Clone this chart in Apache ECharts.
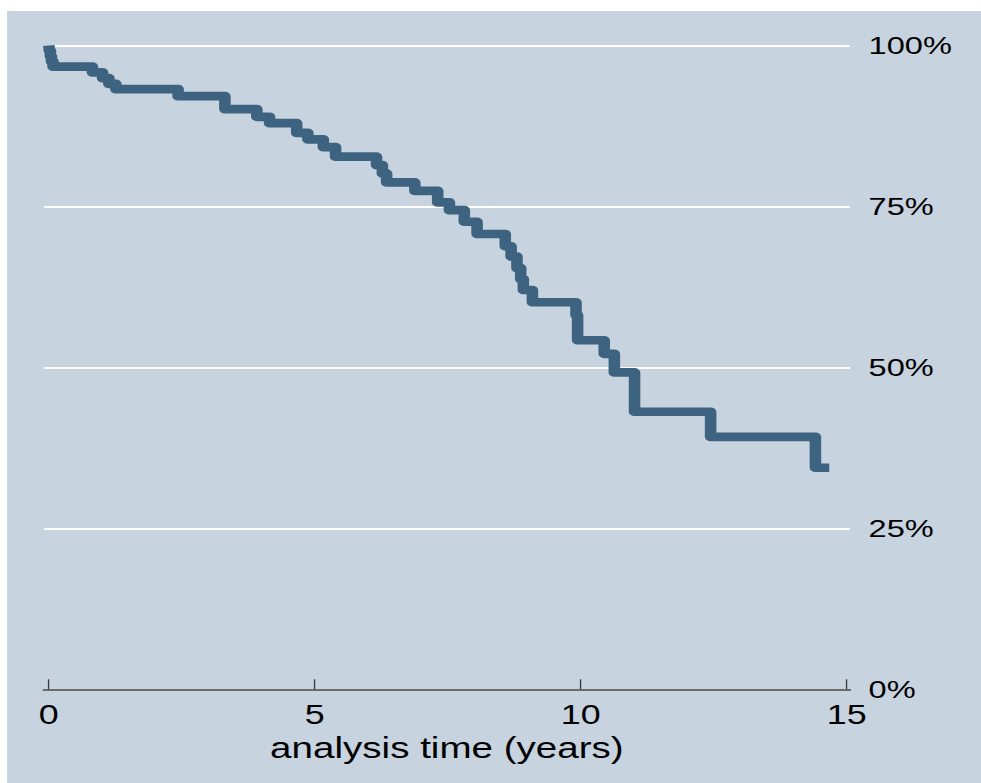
<!DOCTYPE html>
<html>
<head>
<meta charset="utf-8">
<script src="https://cdn.jsdelivr.net/npm/echarts@6/dist/echarts.min.js"></script>
<style>
  html, body { margin: 0; padding: 0; background: #fff; overflow: hidden; }
  /* the reference is stretched sideways, so draw narrow and widen */
  #main { width: 738px; height: 783px; transform: scaleX(1.33); transform-origin: 0 0; }
</style>
</head>
<body>
<div id="main"></div>
<script>
// Kaplan-Meier estimate
var times = [0, 0.01, 0.03, 0.05, 0.08, 0.82, 1.01, 1.13, 1.26, 2.43, 3.31, 3.91, 4.15, 4.66, 4.87,
  5.16, 5.39, 6.16, 6.27, 6.35, 6.88, 7.31, 7.53, 7.81, 8.05, 8.58, 8.69, 8.80, 8.87, 8.92, 9.09,
  9.91, 9.94, 10.44, 10.63, 11.01, 12.44, 14.41, 14.67];
var survival = [100, 99.2, 98.3, 97.5, 96.7, 95.8, 94.9, 94.0, 93.2, 92.1, 90.1, 88.9, 87.9, 86.4, 85.4,
  84.2, 82.7, 81.4, 80.1, 78.7, 77.4, 75.6, 74.4, 72.6, 70.7, 68.8, 67.2, 65.4, 63.7, 62.0, 60.1,
  58.1, 54.2, 52.1, 49.2, 43.1, 39.2, 34.4, 34.4];
var xTicks = [0, 5, 10, 15];
var yTicks = [0, 25, 50, 75, 100];

var chartDom = document.getElementById('main');
var myChart = echarts.init(chartDom, null, { renderer: 'svg' });
var option;

var pts = times.map(function (t, i) { return [t, survival[i]]; });
var font = 'Liberation Sans, Arial, sans-serif';

option = {
  animation: false,
  backgroundColor: '#ffffff',
  graphic: [{
    type: 'rect',
    z: -10,
    shape: { x: 5.3, y: 11, width: 800, height: 800 },
    style: { fill: '#c7d3df' },
    silent: true
  }],
  grid: {
    left: 32.9,
    right: 98.9,
    top: 45.3,
    bottom: 93.7,
    outerBoundsMode: 'none'
  },
  xAxis: {
    type: 'value',
    min: -0.095,
    max: 15.06,
    name: 'analysis time (years)',
    nameLocation: 'middle',
    nameGap: 43,
    nameTextStyle: { fontSize: 29, color: '#000', fontFamily: font },
    axisLine: { show: true, lineStyle: { color: '#3a3a3a', width: 1.7 } },
    axisTick: { show: true, inside: true, length: 10, customValues: xTicks,
      lineStyle: { color: '#3a3a3a', width: 1 } },
    axisLabel: { customValues: xTicks, fontSize: 27, color: '#000', margin: 12, fontFamily: font },
    splitLine: { show: false }
  },
  yAxis: {
    type: 'value',
    position: 'right',
    min: 0,
    max: 100,
    interval: 25,
    axisLine: { show: false },
    axisTick: { show: false },
    axisLabel: { formatter: '{value}%', fontSize: 24.5, color: '#000', margin: 14, fontFamily: font,
      customValues: yTicks },
    splitLine: { show: true, lineStyle: { color: '#ffffff', width: 2.2 } }
  },
  series: [{
    type: 'line',
    step: 'end',
    data: pts,
    symbol: 'none',
    lineStyle: { color: '#3e6380', width: 8.7, cap: 'butt', join: 'round' },
    z: 3
  }]
};

option && myChart.setOption(option);
</script>
</body>
</html>
